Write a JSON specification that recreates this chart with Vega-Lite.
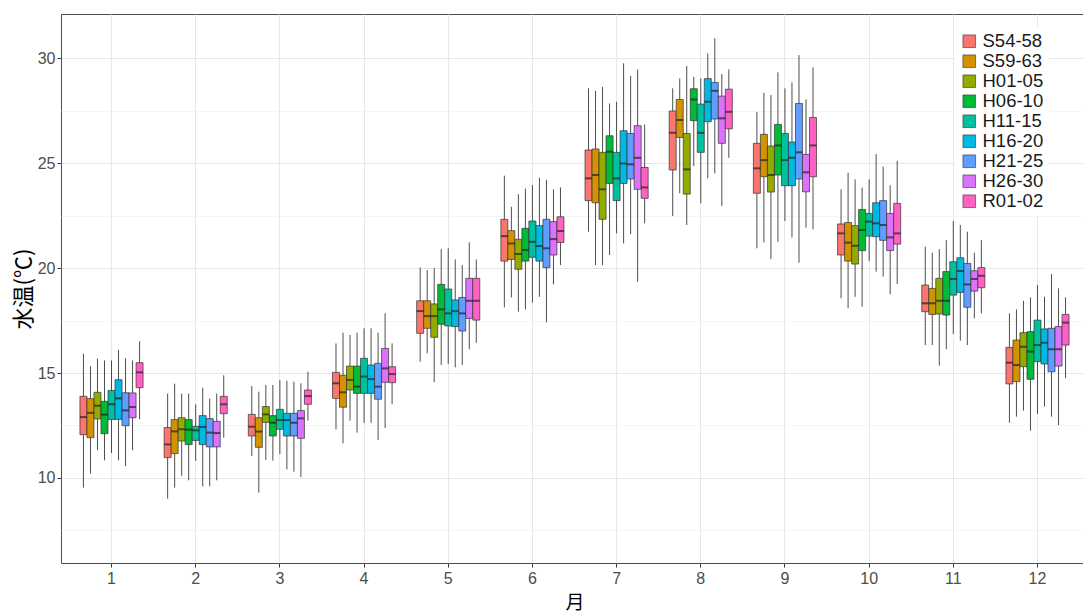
{
  "$schema": "https://vega.github.io/schema/vega-lite/v6.json",
  "width": 1022,
  "height": 549,
  "autosize": {"type": "none"},
  "padding": {"left": 61, "top": 14, "right": 0, "bottom": 52},
  "background": "white",
  "config": {
    "view": {"stroke": "#4d4d4d", "strokeWidth": 1},
    "font": "Liberation Sans",
    "axis": {"domain": false, "tickColor": "#333333", "tickSize": 4, "labelColor": "#4d4d4d", "labelFontSize": 16, "labelFont": "Liberation Sans", "titleColor": "#000000", "titleFont": "Noto Sans CJK JP", "titleFontWeight": "normal"}
  },
  "data": {"values": [
    {"m":1,"g":"S54-58","lo":9.54,"q1":12.06,"md":12.90,"q3":13.89,"hi":15.92},
    {"m":1,"g":"S59-63","lo":10.21,"q1":11.92,"md":13.10,"q3":13.78,"hi":15.32},
    {"m":1,"g":"H01-05","lo":11.32,"q1":12.81,"md":13.44,"q3":14.08,"hi":15.68},
    {"m":1,"g":"H06-10","lo":10.84,"q1":12.11,"md":13.02,"q3":13.65,"hi":15.60},
    {"m":1,"g":"H11-15","lo":11.19,"q1":12.78,"md":13.51,"q3":14.17,"hi":15.60},
    {"m":1,"g":"H16-20","lo":10.84,"q1":12.79,"md":13.79,"q3":14.68,"hi":16.11},
    {"m":1,"g":"H21-25","lo":10.56,"q1":12.49,"md":13.22,"q3":14.06,"hi":15.70},
    {"m":1,"g":"H26-30","lo":11.32,"q1":12.87,"md":13.38,"q3":14.05,"hi":15.60},
    {"m":1,"g":"R01-02","lo":12.79,"q1":14.30,"md":15.03,"q3":15.49,"hi":16.51},
    {"m":2,"g":"S54-58","lo":9.02,"q1":10.97,"md":11.60,"q3":12.40,"hi":14.02},
    {"m":2,"g":"S59-63","lo":9.54,"q1":11.16,"md":12.22,"q3":12.78,"hi":14.49},
    {"m":2,"g":"H01-05","lo":10.10,"q1":11.76,"md":12.32,"q3":12.87,"hi":14.02},
    {"m":2,"g":"H06-10","lo":9.89,"q1":11.59,"md":12.30,"q3":12.78,"hi":14.02},
    {"m":2,"g":"H11-15","lo":10.81,"q1":11.79,"md":12.27,"q3":12.46,"hi":13.51},
    {"m":2,"g":"H16-20","lo":9.60,"q1":11.59,"md":12.43,"q3":12.97,"hi":14.30},
    {"m":2,"g":"H21-25","lo":9.60,"q1":11.48,"md":12.16,"q3":12.83,"hi":13.78},
    {"m":2,"g":"H26-30","lo":9.89,"q1":11.48,"md":12.14,"q3":12.70,"hi":14.02},
    {"m":2,"g":"R01-02","lo":11.92,"q1":13.06,"md":13.51,"q3":13.89,"hi":14.89},
    {"m":3,"g":"S54-58","lo":11.05,"q1":12.00,"md":12.44,"q3":13.03,"hi":14.38},
    {"m":3,"g":"S59-63","lo":9.30,"q1":11.46,"md":12.21,"q3":12.87,"hi":14.11},
    {"m":3,"g":"H01-05","lo":10.86,"q1":12.65,"md":13.03,"q3":13.40,"hi":14.43},
    {"m":3,"g":"H06-10","lo":10.83,"q1":12.00,"md":12.63,"q3":12.97,"hi":14.43},
    {"m":3,"g":"H11-15","lo":11.14,"q1":12.32,"md":12.76,"q3":13.27,"hi":14.67},
    {"m":3,"g":"H16-20","lo":10.40,"q1":12.00,"md":12.76,"q3":13.08,"hi":14.63},
    {"m":3,"g":"H21-25","lo":10.30,"q1":12.00,"md":12.63,"q3":13.08,"hi":14.59},
    {"m":3,"g":"H26-30","lo":10.05,"q1":11.89,"md":12.84,"q3":13.21,"hi":14.51},
    {"m":3,"g":"R01-02","lo":12.73,"q1":13.51,"md":13.90,"q3":14.19,"hi":15.06},
    {"m":4,"g":"S54-58","lo":12.32,"q1":13.79,"md":14.51,"q3":15.03,"hi":16.41},
    {"m":4,"g":"S59-63","lo":11.65,"q1":13.37,"md":14.08,"q3":14.89,"hi":16.92},
    {"m":4,"g":"H01-05","lo":12.73,"q1":14.19,"md":14.67,"q3":15.33,"hi":16.81},
    {"m":4,"g":"H06-10","lo":12.16,"q1":14.03,"md":14.35,"q3":15.33,"hi":16.92},
    {"m":4,"g":"H11-15","lo":12.63,"q1":14.03,"md":14.83,"q3":15.70,"hi":17.13},
    {"m":4,"g":"H16-20","lo":12.63,"q1":14.03,"md":14.71,"q3":15.38,"hi":17.13},
    {"m":4,"g":"H21-25","lo":11.81,"q1":13.75,"md":14.35,"q3":15.46,"hi":16.92},
    {"m":4,"g":"H26-30","lo":12.38,"q1":14.56,"md":15.22,"q3":16.17,"hi":17.84},
    {"m":4,"g":"R01-02","lo":13.51,"q1":14.54,"md":14.95,"q3":15.30,"hi":16.41},
    {"m":5,"g":"S54-58","lo":15.54,"q1":16.89,"md":17.95,"q3":18.44,"hi":20.03},
    {"m":5,"g":"S59-63","lo":15.94,"q1":17.13,"md":17.71,"q3":18.44,"hi":19.90},
    {"m":5,"g":"H01-05","lo":14.56,"q1":16.70,"md":17.71,"q3":18.29,"hi":20.00},
    {"m":5,"g":"H06-10","lo":15.38,"q1":17.32,"md":18.03,"q3":19.22,"hi":20.90},
    {"m":5,"g":"H11-15","lo":15.43,"q1":17.24,"md":17.84,"q3":19.00,"hi":20.94},
    {"m":5,"g":"H16-20","lo":15.27,"q1":17.21,"md":17.95,"q3":18.48,"hi":20.41},
    {"m":5,"g":"H21-25","lo":15.38,"q1":17.00,"md":17.84,"q3":18.60,"hi":20.14},
    {"m":5,"g":"H26-30","lo":16.13,"q1":17.60,"md":18.44,"q3":19.51,"hi":21.22},
    {"m":5,"g":"R01-02","lo":16.44,"q1":17.52,"md":18.44,"q3":19.51,"hi":20.41},
    {"m":6,"g":"S54-58","lo":18.13,"q1":20.33,"md":21.52,"q3":22.32,"hi":24.40},
    {"m":6,"g":"S59-63","lo":18.60,"q1":20.41,"md":21.17,"q3":21.78,"hi":22.92},
    {"m":6,"g":"H01-05","lo":17.92,"q1":19.94,"md":20.67,"q3":21.37,"hi":23.52},
    {"m":6,"g":"H06-10","lo":18.03,"q1":20.33,"md":20.86,"q3":21.89,"hi":23.79},
    {"m":6,"g":"H11-15","lo":18.35,"q1":20.51,"md":21.25,"q3":22.24,"hi":23.95},
    {"m":6,"g":"H16-20","lo":18.63,"q1":20.33,"md":21.05,"q3":22.02,"hi":24.30},
    {"m":6,"g":"H21-25","lo":17.41,"q1":20.02,"md":20.94,"q3":22.32,"hi":24.20},
    {"m":6,"g":"H26-30","lo":19.22,"q1":20.62,"md":21.38,"q3":22.21,"hi":23.75},
    {"m":6,"g":"R01-02","lo":20.14,"q1":21.22,"md":21.76,"q3":22.44,"hi":23.84},
    {"m":7,"g":"S54-58","lo":21.73,"q1":23.21,"md":24.27,"q3":25.62,"hi":28.56},
    {"m":7,"g":"S59-63","lo":20.14,"q1":23.11,"md":24.43,"q3":25.67,"hi":28.44},
    {"m":7,"g":"H01-05","lo":20.14,"q1":22.32,"md":23.75,"q3":25.51,"hi":28.63},
    {"m":7,"g":"H06-10","lo":20.62,"q1":24.03,"md":25.54,"q3":26.30,"hi":27.84},
    {"m":7,"g":"H11-15","lo":21.65,"q1":23.21,"md":24.27,"q3":25.51,"hi":27.92},
    {"m":7,"g":"H16-20","lo":21.17,"q1":24.03,"md":24.98,"q3":26.54,"hi":29.75},
    {"m":7,"g":"H21-25","lo":21.62,"q1":24.24,"md":24.94,"q3":26.41,"hi":29.14},
    {"m":7,"g":"H26-30","lo":19.35,"q1":23.75,"md":25.25,"q3":26.78,"hi":29.46},
    {"m":7,"g":"R01-02","lo":22.13,"q1":23.32,"md":23.84,"q3":24.79,"hi":26.84},
    {"m":8,"g":"S54-58","lo":22.48,"q1":24.67,"md":26.44,"q3":27.48,"hi":28.56},
    {"m":8,"g":"S59-63","lo":23.56,"q1":26.22,"md":27.05,"q3":28.03,"hi":29.03},
    {"m":8,"g":"H01-05","lo":22.05,"q1":23.52,"md":24.70,"q3":26.41,"hi":29.62},
    {"m":8,"g":"H06-10","lo":24.86,"q1":27.02,"md":28.03,"q3":28.54,"hi":29.11},
    {"m":8,"g":"H11-15","lo":23.08,"q1":25.51,"md":26.44,"q3":27.81,"hi":29.03},
    {"m":8,"g":"H16-20","lo":24.27,"q1":26.97,"md":27.92,"q3":29.02,"hi":30.22},
    {"m":8,"g":"H21-25","lo":24.51,"q1":27.10,"md":28.44,"q3":28.84,"hi":30.94},
    {"m":8,"g":"H26-30","lo":22.95,"q1":25.94,"md":27.13,"q3":28.19,"hi":29.24},
    {"m":8,"g":"R01-02","lo":25.25,"q1":26.63,"md":27.44,"q3":28.52,"hi":29.46},
    {"m":9,"g":"S54-58","lo":20.94,"q1":23.56,"md":24.75,"q3":25.94,"hi":27.44},
    {"m":9,"g":"S59-63","lo":21.22,"q1":24.35,"md":25.14,"q3":26.37,"hi":28.35},
    {"m":9,"g":"H01-05","lo":20.43,"q1":23.62,"md":24.43,"q3":25.81,"hi":28.24},
    {"m":9,"g":"H06-10","lo":21.25,"q1":24.43,"md":25.84,"q3":26.84,"hi":29.32},
    {"m":9,"g":"H11-15","lo":22.24,"q1":23.92,"md":25.14,"q3":26.41,"hi":28.56},
    {"m":9,"g":"H16-20","lo":21.46,"q1":23.92,"md":25.25,"q3":26.00,"hi":28.84},
    {"m":9,"g":"H21-25","lo":20.25,"q1":24.24,"md":25.51,"q3":27.84,"hi":30.14},
    {"m":9,"g":"H26-30","lo":21.92,"q1":23.63,"md":24.56,"q3":25.41,"hi":28.03},
    {"m":9,"g":"R01-02","lo":21.84,"q1":24.35,"md":25.84,"q3":27.17,"hi":29.56},
    {"m":10,"g":"S54-58","lo":18.56,"q1":20.62,"md":21.65,"q3":22.10,"hi":23.75},
    {"m":10,"g":"S59-63","lo":18.08,"q1":20.33,"md":21.21,"q3":22.17,"hi":24.54},
    {"m":10,"g":"H01-05","lo":18.63,"q1":20.19,"md":21.06,"q3":22.02,"hi":24.22},
    {"m":10,"g":"H06-10","lo":18.16,"q1":20.83,"md":21.81,"q3":22.79,"hi":23.83},
    {"m":10,"g":"H11-15","lo":20.33,"q1":21.52,"md":22.21,"q3":22.60,"hi":24.22},
    {"m":10,"g":"H16-20","lo":19.83,"q1":21.49,"md":22.13,"q3":23.11,"hi":25.43},
    {"m":10,"g":"H21-25","lo":19.59,"q1":21.32,"md":22.05,"q3":23.21,"hi":24.83},
    {"m":10,"g":"H26-30","lo":18.75,"q1":20.83,"md":21.46,"q3":22.60,"hi":23.94},
    {"m":10,"g":"R01-02","lo":19.24,"q1":21.14,"md":21.65,"q3":23.08,"hi":25.11},
    {"m":11,"g":"S54-58","lo":16.33,"q1":17.92,"md":18.32,"q3":19.19,"hi":21.02},
    {"m":11,"g":"S59-63","lo":16.33,"q1":17.79,"md":18.32,"q3":19.03,"hi":20.73},
    {"m":11,"g":"H01-05","lo":15.35,"q1":17.81,"md":18.44,"q3":19.51,"hi":20.90},
    {"m":11,"g":"H06-10","lo":16.13,"q1":17.76,"md":18.44,"q3":19.83,"hi":21.33},
    {"m":11,"g":"H11-15","lo":16.86,"q1":18.71,"md":19.48,"q3":20.30,"hi":22.24},
    {"m":11,"g":"H16-20","lo":16.54,"q1":18.84,"md":19.86,"q3":20.49,"hi":22.05},
    {"m":11,"g":"H21-25","lo":16.33,"q1":18.13,"md":19.22,"q3":20.22,"hi":21.73},
    {"m":11,"g":"H26-30","lo":17.60,"q1":18.90,"md":19.48,"q3":19.87,"hi":20.73},
    {"m":11,"g":"R01-02","lo":17.84,"q1":19.06,"md":19.63,"q3":20.02,"hi":21.33},
    {"m":12,"g":"S54-58","lo":12.63,"q1":14.48,"md":15.49,"q3":16.22,"hi":17.84},
    {"m":12,"g":"S59-63","lo":12.92,"q1":14.59,"md":15.38,"q3":16.57,"hi":18.03},
    {"m":12,"g":"H01-05","lo":13.21,"q1":15.30,"md":16.25,"q3":16.92,"hi":18.44},
    {"m":12,"g":"H06-10","lo":12.25,"q1":14.70,"md":16.02,"q3":16.97,"hi":18.60},
    {"m":12,"g":"H11-15","lo":13.05,"q1":15.54,"md":16.33,"q3":17.52,"hi":19.19},
    {"m":12,"g":"H16-20","lo":13.40,"q1":15.43,"md":16.44,"q3":17.10,"hi":18.63},
    {"m":12,"g":"H21-25","lo":12.92,"q1":15.06,"md":16.13,"q3":17.13,"hi":19.71},
    {"m":12,"g":"H26-30","lo":12.52,"q1":15.33,"md":16.13,"q3":17.21,"hi":19.03},
    {"m":12,"g":"R01-02","lo":14.75,"q1":16.33,"md":17.40,"q3":17.79,"hi":18.60}
  ]},
  "encoding": {
    "x": {
      "field": "m", "type": "ordinal",
      "scale": {"range": [0, 1027], "paddingInner": 0.25, "paddingOuter": 0.225},
      "axis": {"title": "月", "titleFontSize": 19, "labelAngle": 0, "labelPadding": 3, "titlePadding": 7, "grid": true, "gridColor": "#e8e8e8", "bandPosition": 0.5}
    },
    "xOffset": {
      "field": "g", "type": "nominal",
      "sort": ["S54-58","S59-63","H01-05","H06-10","H11-15","H16-20","H21-25","H26-30","R01-02"],
      "scale": {"paddingInner": 0, "paddingOuter": 0}
    }
  },
  "layer": [
    {
      "mark": {"type": "rule", "color": "#3a3a3a", "strokeWidth": 0.9},
      "encoding": {
        "y": {
          "field": "lo", "type": "quantitative",
          "scale": {"domain": [5.95, 32.1], "nice": false, "zero": false},
          "axis": {
            "title": "水温(℃)", "titleFontSize": 22, "titlePadding": 2,
            "values": [7.5, 10, 12.5, 15, 17.5, 20, 22.5, 25, 27.5, 30],
            "labelExpr": "datum.value % 5 === 0 ? '' + datum.value : ''",
            "labelPadding": 2,
            "grid": true,
            "gridColor": {"condition": {"test": "datum.value % 5 === 0", "value": "#e6e6e6"}, "value": "#f0f0f0"},
            "gridWidth": {"condition": {"test": "datum.value % 5 === 0", "value": 1}, "value": 0.7},
            "tickOpacity": {"condition": {"test": "datum.value % 5 === 0", "value": 1}, "value": 0}
          }
        },
        "y2": {"field": "hi"}
      }
    },
    {
      "mark": {"type": "bar", "stroke": "#333333", "strokeWidth": 0.7},
      "encoding": {
        "y": {"field": "q1", "type": "quantitative"},
        "y2": {"field": "q3"},
        "color": {
          "field": "g", "type": "nominal",
          "sort": ["S54-58","S59-63","H01-05","H06-10","H11-15","H16-20","H21-25","H26-30","R01-02"],
          "scale": {"domain": ["S54-58","S59-63","H01-05","H06-10","H11-15","H16-20","H21-25","H26-30","R01-02"], "range": ["#F8766D","#D39200","#93AA00","#00BA38","#00C19F","#00B9E3","#619CFF","#DB72FB","#FF61C3"]},
          "legend": {
            "orient": "none", "legendX": 894, "legendY": 13, "title": null,
            "symbolType": "square", "symbolSize": 160, "symbolStrokeColor": "#333333", "symbolStrokeWidth": 0.6, "symbolOpacity": 1,
            "labelFontSize": 18.5, "labelColor": "#1a1a1a", "labelFont": "Liberation Sans", "labelOffset": 4,
            "rowPadding": 1, "fillColor": "white", "padding": 5
          }
        }
      }
    },
    {
      "mark": {"type": "tick", "color": "#222222", "thickness": 2, "size": 7},
      "encoding": {"y": {"field": "md", "type": "quantitative"}}
    }
  ]
}
